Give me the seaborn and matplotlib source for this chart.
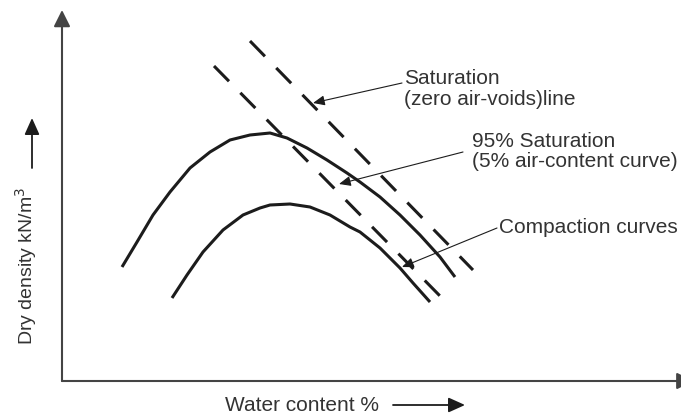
# plot.py
# Compaction curves sketch: dry density vs water content with
# zero air-voids and 95% saturation lines.

import pandas as pd
import seaborn as sns
import matplotlib.pyplot as plt

# water content (%) / dry density (kN/m3)
upper_w = [3.0, 3.75, 4.55, 5.4, 6.4, 7.4, 8.4, 9.4, 10.4, 11.25, 12.25,
           13.25, 14.25, 14.9, 15.9, 16.9, 17.9, 18.9, 19.65]
upper_d = [16.28, 16.78, 17.32, 17.78, 18.26, 18.58, 18.82, 18.92, 18.96,
           18.86, 18.66, 18.42, 18.16, 17.98, 17.68, 17.32, 16.92, 16.48, 16.08]

lower_w = [5.5, 6.25, 7.05, 8.05, 9.05, 9.9, 10.4, 11.4, 12.4, 13.4, 14.4,
           14.9, 15.9, 16.9, 17.55, 18.4]
lower_d = [15.66, 16.12, 16.58, 17.02, 17.32, 17.46, 17.52, 17.54, 17.48,
           17.32, 17.08, 16.98, 16.66, 16.26, 15.96, 15.58]

zav_w = [9.4, 20.55]       # zero air-voids line
zav_d = [20.8, 16.22]
sat95_w = [7.6, 18.95]     # 95% saturation line
sat95_d = [20.3, 15.68]

labels = ["Saturation\n(zero air-voids)line",
          "95% Saturation\n(5% air-content curve)",
          "Compaction curves"]
label_w = [17.1, 20.5, 21.85]
label_d = [19.84, 18.59, 16.96]
tail_w = [17.0, 20.05, 21.75]
tail_d = [19.96, 18.58, 17.06]
tip_w = [12.55, 13.85, 17.0]
tip_d = [19.56, 17.94, 16.28]

sns.set_theme(style="white")
plt.rcParams["font.family"] = ["Liberation Sans", "DejaVu Sans"]

INK = "#1c1c1c"
TXT = "#333333"

fig = plt.figure(figsize=(6.81, 4.17), dpi=100)
ax = fig.add_axes([62 / 681, 36 / 417, 619 / 681, 371 / 417])
ax.set_xlim(0, 30.95)
ax.set_ylim(14, 21.42)
ax.set_axis_off()

curves = pd.concat([
    pd.DataFrame({"w": upper_w, "d": upper_d, "curve": "upper"}),
    pd.DataFrame({"w": lower_w, "d": lower_d, "curve": "lower"}),
])
for name, grp in curves.groupby("curve"):
    sns.lineplot(data=grp, x="w", y="d", ax=ax, sort=False, estimator=None,
                 color=INK, lw=2.2, solid_joinstyle="round",
                 solid_capstyle="butt")

for w, d in [(zav_w, zav_d), (sat95_w, sat95_d)]:
    sns.lineplot(x=w, y=d, ax=ax, sort=False, estimator=None, color=INK,
                 lw=2.2, linestyle=(0, (7, 5.3)))

# axes with arrowheads
axis_arrow = dict(arrowstyle="-|>,head_length=1.0,head_width=0.5",
                  mutation_scale=10, lw=1.5, color="#444444",
                  shrinkA=0, shrinkB=0)
ax.annotate("", xy=(0, 1.0), xytext=(0, 0), xycoords="axes fraction",
            arrowprops=axis_arrow, annotation_clip=False)
ax.annotate("", xy=(1.02, 0), xytext=(0, 0), xycoords="axes fraction",
            arrowprops=axis_arrow, annotation_clip=False)

# callouts
for lab, lw_, ld, tw, td, pw, pd_ in zip(labels, label_w, label_d,
                                         tail_w, tail_d, tip_w, tip_d):
    ax.text(lw_, ld, lab, fontsize=15, color=TXT, ha="left",
            va="center" if "\n" in lab else "baseline", linespacing=1.12)
    ax.annotate("", xy=(pw, pd_), xytext=(tw, td),
                arrowprops=dict(arrowstyle="-|>,head_length=0.7,head_width=0.3",
                                mutation_scale=10, lw=0.8, color=INK,
                                shrinkA=0, shrinkB=0))

# axis labels with their arrows
fig.text(225 / 681, 6 / 417, "Water content %", fontsize=15, color=TXT,
         ha="left", va="baseline")
fig.text(26 / 681, 72 / 417, "Dry density kN/m$^3$", fontsize=14,
         color=TXT, rotation=90, ha="center", va="bottom")
label_arrow = dict(arrowstyle="-|>,head_length=1.0,head_width=0.45",
                   mutation_scale=10, lw=1.3, color=INK,
                   shrinkA=0, shrinkB=0)
ax.annotate("", xy=(465 / 681, 12 / 417), xytext=(393 / 681, 12 / 417),
            xycoords="figure fraction", arrowprops=label_arrow,
            annotation_clip=False)
ax.annotate("", xy=(32 / 681, 299 / 417), xytext=(32 / 681, 249 / 417),
            xycoords="figure fraction", arrowprops=label_arrow,
            annotation_clip=False)

fig.savefig("out.png", dpi=100)
